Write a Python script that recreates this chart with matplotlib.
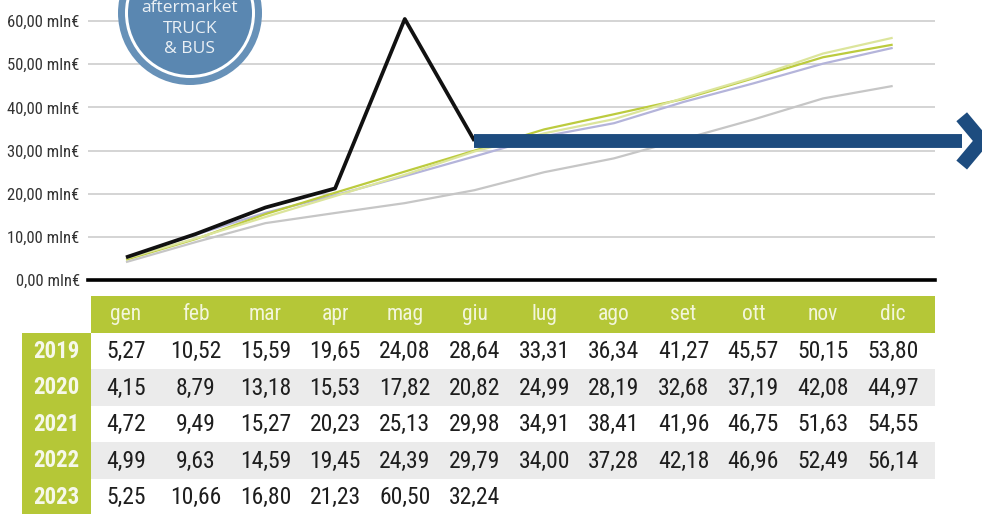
import numpy as np
import matplotlib
matplotlib.use("Agg")
import matplotlib.pyplot as plt
from matplotlib.patches import Rectangle, Circle

# cumulative monthly turnover, mln EUR
months = ["gen", "feb", "mar", "apr", "mag", "giu", "lug", "ago", "set", "ott", "nov", "dic"]
years = ["2019", "2020", "2021", "2022", "2023"]
v2019 = [5.27, 10.52, 15.59, 19.65, 24.08, 28.64, 33.31, 36.34, 41.27, 45.57, 50.15, 53.80]
v2020 = [4.15, 8.79, 13.18, 15.53, 17.82, 20.82, 24.99, 28.19, 32.68, 37.19, 42.08, 44.97]
v2021 = [4.72, 9.49, 15.27, 20.23, 25.13, 29.98, 34.91, 38.41, 41.96, 46.75, 51.63, 54.55]
v2022 = [4.99, 9.63, 14.59, 19.45, 24.39, 29.79, 34.00, 37.28, 42.18, 46.96, 52.49, 56.14]
v2023 = [5.25, 10.66, 16.80, 21.23, 60.50, 32.24]
yticks = [0, 10, 20, 30, 40, 50, 60]

series = [v2019, v2020, v2021, v2022, v2023]
line_colors = ["#b4b4da", "#c6c6c6", "#bccb3e", "#dce59c", "#111111"]
line_widths = [1.6, 1.6, 1.6, 1.6, 2.7]
draw_order = [1, 0, 3, 2, 4]

GREEN = "#b5c737"
NAVY = "#1d4c7f"
BADGE = "#5a87b1"
narrow = ["Roboto Condensed", "Liberation Sans Narrow", "Roboto", "DejaVu Sans"]

W, H = 982, 514
fig = plt.figure(figsize=(W / 100, H / 100), dpi=100)

# x data units: one month = one table column
x0, x1 = -0.545, 11.607

# line chart
ax = fig.add_axes([88 / W, 1 - 280 / H, (935 - 88) / W, 280 / H])
ax.set_xlim(x0, x1)
ax.set_ylim(0, 64.9)
ax.set_yticks(yticks)
ax.set_yticklabels([f"{t},00 mln€" for t in yticks], family=narrow, fontsize=12, color="#333333")
ax.set_xticks([])
ax.tick_params(axis="y", length=0, pad=6)
ax.yaxis.grid(True, color="#d4d4d4", lw=1.4)
ax.set_axisbelow(True)
for s in ["top", "right", "left"]:
    ax.spines[s].set_visible(False)
ax.spines["bottom"].set_color("black")
ax.spines["bottom"].set_linewidth(2.6)

x = np.arange(len(months))
for i in draw_order:
    vals = series[i]
    ax.plot(x[:len(vals)], vals, color=line_colors[i], lw=line_widths[i],
            solid_capstyle="butt", zorder=3 + i)

# arrow from the last 2023 value
last_i = len(v2023) - 1
last_v = v2023[-1]
ax.plot([last_i, 12.0], [last_v, last_v], color=NAVY, lw=10, solid_capstyle="butt",
        clip_on=False, zorder=10)
ax.plot([11.99, 12.28, 11.99], [last_v + 5.6, last_v, last_v - 5.6], color=NAVY, lw=10,
        solid_joinstyle="miter", solid_capstyle="butt", clip_on=False, zorder=10)

# data table under the chart
tab = fig.add_axes([88 / W, 0, (935 - 88) / W, 218 / H])
tab.set_xlim(x0, x1)
tab.set_ylim(218 / 36.5, 0)
tab.axis("off")
tab.add_patch(Rectangle((-0.5, 0), x1 + 0.5, 1, color=GREEN, lw=0))
tab.add_patch(Rectangle((-1.49, 1), 0.99, 5, color=GREEN, lw=0, clip_on=False))
for r in range(len(years)):
    if r % 2 == 1:
        tab.add_patch(Rectangle((-0.5, 1 + r), x1 + 0.5, 1, color="#ebebeb", lw=0))
for j, m in enumerate(months):
    tab.text(j, 0.52, m, ha="center", va="center", family=narrow, fontsize=15.5,
             color="#f3f6dc")
for r, (yr, vals) in enumerate(zip(years, series)):
    tab.text(-1.0, 1.52 + r, yr, ha="center", va="center", family=narrow, fontsize=16.5,
             fontweight="bold", color="#f6f8ea", clip_on=False)
    for j, v in enumerate(vals):
        tab.text(j, 1.52 + r, f"{v:.2f}".replace(".", ","), ha="center", va="center",
                 family=narrow, fontsize=17, color="#1e1e1e")

# round badge, top left
ov = fig.add_axes([0, 0, 1, 1])
ov.set_xlim(0, W)
ov.set_ylim(H, 0)
ov.axis("off")
ov.add_patch(Circle((190, 13), 72, color="#6791b8", lw=0))
ov.add_patch(Circle((190, 13), 65, color="white", lw=0))
ov.add_patch(Circle((190, 13), 62, color=BADGE, lw=0))
for ty, t in zip([8, 29, 49], ["aftermarket", "TRUCK", "& BUS"]):
    ov.text(190, ty, t, ha="center", va="center", family=["Open Sans", "DejaVu Sans"],
            fontsize=12.5, color="#eaf0f5")

fig.savefig("out.png", dpi=100, facecolor="white")
